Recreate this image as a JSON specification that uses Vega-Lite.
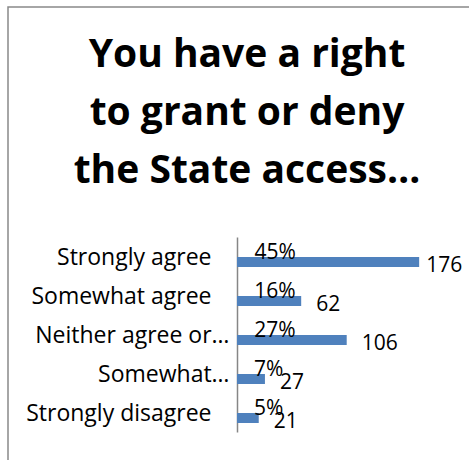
{
  "$schema": "https://vega.github.io/schema/vega-lite/v6.json",
  "autosize": {"type": "none"},
  "padding": {"left": 8, "top": 7, "right": 0, "bottom": 0},
  "width": 470,
  "height": 460,
  "background": "white",
  "config": {"view": {"stroke": "#898989", "strokeWidth": 1.5}},
  "title": {
    "text": ["You have a right", "to grant or deny", "the State access…"],
    "font": "Open Sans",
    "fontSize": 39,
    "fontWeight": "bold",
    "color": "#000000",
    "lineHeight": 58,
    "anchor": "middle",
    "frame": "group",
    "baseline": "alphabetic",
    "offset": 0,
    "dx": 4,
    "dy": 215
  },
  "data": {
    "values": [
      {"response": "Strongly agree", "count": 176, "pct": 0.45},
      {"response": "Somewhat agree", "count": 62, "pct": 0.16},
      {"response": "Neither agree or…", "count": 106, "pct": 0.27},
      {"response": "Somewhat…", "count": 27, "pct": 0.07},
      {"response": "Strongly disagree", "count": 21, "pct": 0.05}
    ]
  },
  "encoding": {
    "y": {
      "field": "response",
      "type": "nominal",
      "sort": null,
      "scale": {"range": [230, 425], "paddingInner": 0, "paddingOuter": 0},
      "axis": {
        "title": null,
        "offset": -229,
        "ticks": false,
        "domainColor": "#868686",
        "domainWidth": 1.5,
        "labelFont": "Open Sans",
        "labelFontSize": 23,
        "labelColor": "#000000",
        "labelPadding": {"condition": {"test": "test(regexp('…'), datum.label)", "value": 8}, "value": 26},
        "labelLimit": 0,
        "labelOffset": 1.5
      }
    }
  },
  "layer": [
    {
      "mark": {"type": "bar", "height": 10, "yOffset": 5.5, "color": "#4F81BD"},
      "encoding": {
        "x": {"field": "count", "type": "quantitative", "scale": {"domain": [0, 200], "range": [229, 436]}, "axis": null}
      }
    },
    {
      "mark": {"type": "text", "align": "left", "baseline": "alphabetic", "dx": 17, "dy": 2.8, "font": "Open Sans", "fontSize": 21, "color": "#000000"},
      "encoding": {
        "x": {"field": "pct", "type": "quantitative"},
        "text": {"field": "pct", "type": "quantitative", "format": ".0%"}
      }
    },
    {
      "transform": [{"filter": "datum.count < 150"}],
      "mark": {"type": "text", "align": "left", "baseline": "alphabetic", "dx": 15, "dy": 15.8, "font": "Open Sans", "fontSize": 21, "color": "#000000"},
      "encoding": {
        "x": {"field": "count", "type": "quantitative"},
        "text": {"field": "count", "type": "quantitative"}
      }
    },
    {
      "transform": [{"filter": "datum.count >= 150"}],
      "mark": {"type": "text", "align": "left", "baseline": "alphabetic", "dx": 7, "dy": 15.8, "font": "Open Sans", "fontSize": 21, "color": "#000000"},
      "encoding": {
        "x": {"field": "count", "type": "quantitative"},
        "text": {"field": "count", "type": "quantitative"}
      }
    }
  ]
}
